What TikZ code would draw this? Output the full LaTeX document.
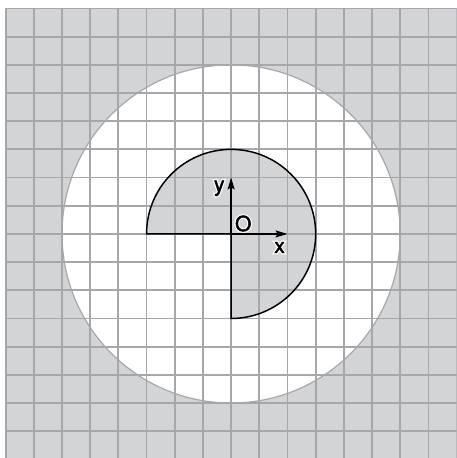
\documentclass[tikz,border=0pt]{standalone}
\usepackage{fontspec}
\setmainfont{TeX Gyre Heros}
\newfontfamily\halofont[FakeBold=14]{TeX Gyre Heros}
\newfontfamily\lblfont[FakeBold=2.5]{TeX Gyre Heros}
\usetikzlibrary{arrows.meta}
\definecolor{gfill}{RGB}{211,212,214}
\definecolor{gline}{RGB}{166,167,171}
\tikzset{
  gridline/.style={draw=gline, line width=1.8pt},
  rim/.style={draw=gline, line width=1.2pt},
  outline/.style={draw=black, line width=1.5pt, line join=miter},
  axis/.style={draw=black, line width=1.4pt, -{Stealth[length=12pt,width=7pt,inset=2pt]}},
  lbl/.style={font=\fontsize{21}{21}\selectfont\lblfont, inner sep=0pt},
  halo/.style={font=\fontsize{21}{21}\selectfont\halofont, text=white, inner sep=0pt}
}
\begin{document}
\begin{tikzpicture}[x=1cm,y=1cm]
\useasboundingbox (-8.2,-7.95) rectangle (8.0,8.3);
\clip (-8.2,-7.95) rectangle (8.0,8.3);
% outer gray field
\fill[gfill] (-8,-8.5) rectangle (8.5,8);
% white disc
\fill[white] (0,0) circle (6);
% gray three-quarter disc
\fill[gfill] (-3,0) arc (180:-90:3) -- (0,0) -- cycle;
% grid
\foreach \i in {-8,...,8} {
  \draw[gridline] (\i,-8.5) -- (\i,8);
  \draw[gridline] (-8,\i) -- (8.5,\i);
}
% disc rim
\draw[rim] (0,0) circle (6);
% sector outline
\coordinate (O) at (0,0);
\coordinate (A) at (-3,0);
\coordinate (B) at (0,-3);
\coordinate (Xt) at (2,0);
\coordinate (Yt) at (0,2);
\draw[outline] (A) arc (180:-90:3) -- (O) -- cycle;
% axes
\draw[axis] (O) -- (Xt);
\draw[axis] (O) -- (Yt);
% label halos
\node[halo] (ho) at (0.43,0.37) {O};
\node[halo] (hy) at (-0.42,1.62) {y};
\node[halo] (hx) at (1.72,-0.48) {x};
% labels
\node[lbl] (lo) at (0.43,0.37) {O};
\node[lbl] (ly) at (-0.42,1.62) {y};
\node[lbl] (lx) at (1.72,-0.48) {x};
\end{tikzpicture}
\end{document}
